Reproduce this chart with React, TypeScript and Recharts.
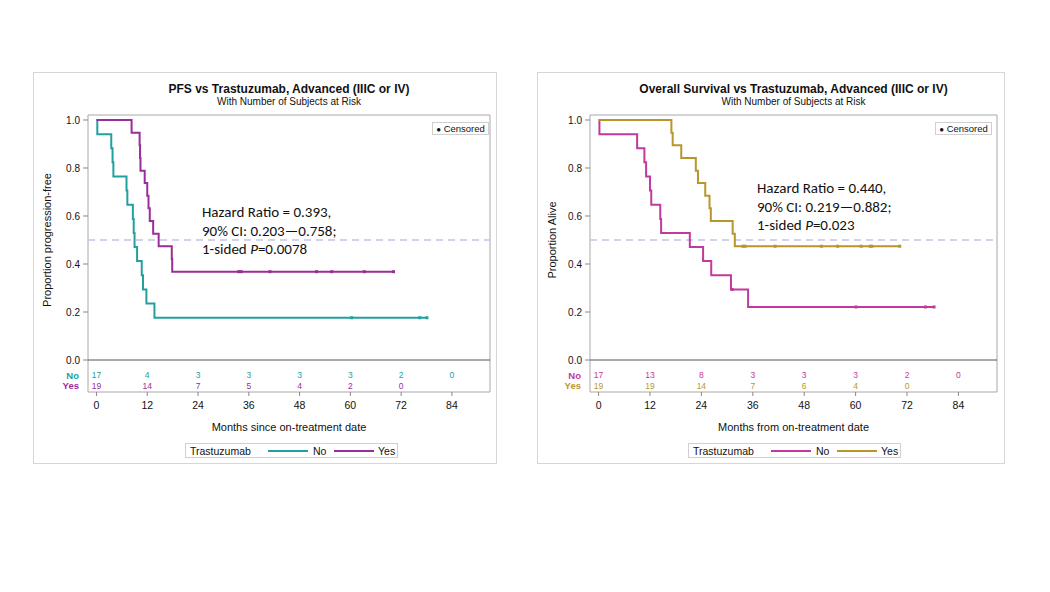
import React from 'react';
import {
  ComposedChart,
  Line,
  Scatter,
  XAxis,
  YAxis,
  ReferenceLine,
  ReferenceArea
} from 'recharts';

// shared axes
const MONTH_TICKS = [0, 12, 24, 36, 48, 60, 72, 84];
const PROP_TICKS = [0, 0.2, 0.4, 0.6, 0.8, 1.0];

// Kaplan-Meier steps: [month, proportion after the event]
const pfsNoSteps = [
  [0, 1], [0.2, 0.941], [3.5, 0.882], [3.8, 0.824], [4.0, 0.765], [7.1, 0.706],
  [7.3, 0.647], [8.6, 0.588], [8.8, 0.529], [9.0, 0.471], [9.6, 0.412],
  [10.7, 0.353], [11.0, 0.294], [11.8, 0.235], [13.7, 0.176]
];
const pfsNoCensored = [60.3, 76.4, 78.1];

const pfsYesSteps = [
  [0, 1], [8.3, 0.947], [10.2, 0.895], [10.3, 0.842], [10.4, 0.789], [11.4, 0.737],
  [12.0, 0.684], [12.3, 0.632], [12.6, 0.579], [13.4, 0.526], [14.7, 0.474],
  [17.8, 0.421], [17.9, 0.368]
];
const pfsYesCensored = [33.6, 34.2, 41.0, 52.0, 55.6, 63.3, 70.2];

const osNoSteps = [
  [0, 1], [0.2, 0.941], [9.0, 0.882], [10.7, 0.824], [11.1, 0.765], [12.0, 0.706],
  [12.3, 0.647], [14.4, 0.588], [14.6, 0.529], [21.3, 0.471], [24.4, 0.412],
  [26.3, 0.353], [30.9, 0.294], [34.9, 0.221]
];
const osNoCensored = [31.2, 60.1, 76.3, 78.3];

const osYesSteps = [
  [0, 1], [17.0, 0.947], [17.3, 0.895], [19.3, 0.842], [22.7, 0.789], [23.2, 0.737],
  [24.9, 0.684], [25.9, 0.632], [26.2, 0.579], [31.3, 0.526], [31.8, 0.474]
];
const osYesCensored = [33.7, 34.2, 41.2, 52.0, 55.8, 61.3, 63.4, 63.8, 70.3];

// number at risk at each month tick
const pfsNoAtRisk = [17, 4, 3, 3, 3, 3, 2, 0];
const pfsYesAtRisk = [19, 14, 7, 5, 4, 2, 0];
const osNoAtRisk = [17, 13, 8, 3, 3, 3, 2, 0];
const osYesAtRisk = [19, 19, 14, 7, 6, 4, 0];

const TEAL = '#22A0A0';
const PURPLE = '#9B2D9B';
const MAGENTA = '#C2399E';
const GOLD = '#B8962C';

const FONT = '"Liberation Sans", Arial, Helvetica, sans-serif';
const Y_MIN = -0.1333;
const Y_MAX = 1.0208;
const X_MIN = -2;
const X_MAX = 93;
const NO_ROW = -0.0625;
const YES_ROW = -0.108;

type Group = {
  name: string;
  color: string;
  steps: number[][];
  censored: number[];
  atRisk: number[];
};

function valueAt(steps: number[][], t: number) {
  let v = steps[0][1];
  for (const [x, y] of steps) if (x <= t) v = y;
  return v;
}

function curve(g: Group) {
  const end = Math.max(...g.censored);
  const pts = g.steps.map(([x, y]) => ({ x, y }));
  pts.push({ x: end, y: valueAt(g.steps, end) });
  return pts;
}

function Panel({ cfg }: { cfg: any }) {
  const { left, width, plotLeft, plotRight, groups } = cfg;
  const g0: Group = groups[0];
  const g1: Group = groups[1];

  const riskRows = [
    ...g0.atRisk.map((n, i) => ({ x: MONTH_TICKS[i], y: NO_ROW, label: String(n), color: g0.color })),
    ...g1.atRisk.map((n, i) => ({ x: MONTH_TICKS[i], y: YES_ROW, label: String(n), color: g1.color }))
  ];
  const rowNames = [
    { x: X_MIN, y: NO_ROW, label: g0.name, color: g0.color },
    { x: X_MIN, y: YES_ROW, label: g1.name, color: g1.color }
  ];

  return (
    <div style={{ position: 'absolute', left, top: 72, width, height: 392, fontFamily: FONT }}>
      <div
        style={{
          position: 'absolute', left: 0, top: 0, width, height: 392,
          border: '1px solid #d6d6d6', boxSizing: 'border-box'
        }}
      />
      <div
        style={{
          position: 'absolute', left: plotLeft, width: plotRight - plotLeft, top: 10,
          textAlign: 'center', fontSize: 12, fontWeight: 'bold', color: '#111', lineHeight: '15px'
        }}
      >
        {cfg.title}
      </div>
      <div
        style={{
          position: 'absolute', left: plotLeft, width: plotRight - plotLeft, top: 24,
          textAlign: 'center', fontSize: 10, color: '#111', lineHeight: '12px'
        }}
      >
        With Number of Subjects at Risk
      </div>
      <div
        style={{
          position: 'absolute', left: cfg.yLabelX - 100, top: 161, width: 200, height: 14,
          lineHeight: '14px', textAlign: 'center', fontSize: 11, color: '#111',
          transform: 'rotate(-90deg)'
        }}
      >
        {cfg.yLabel}
      </div>

      <ComposedChart
        width={width}
        height={392}
        margin={{ top: 43, right: width - plotRight, bottom: 32, left: 10 }}
        style={{ position: 'absolute', left: 0, top: 0 }}
      >
        <XAxis
          type="number"
          dataKey="x"
          domain={[X_MIN, X_MAX]}
          ticks={MONTH_TICKS}
          height={40}
          tickSize={4}
          tickMargin={6}
          axisLine={false}
          tickLine={{ stroke: '#888' }}
          tick={{ fontSize: 10.5, fill: '#111', fontFamily: FONT }}
          label={{ value: cfg.xLabel, position: 'insideBottom', offset: 1, fontSize: 11, fill: '#111', fontFamily: FONT }}
        />
        <YAxis
          type="number"
          dataKey="y"
          domain={[Y_MIN, Y_MAX]}
          ticks={PROP_TICKS}
          width={plotLeft - 10}
          tickSize={5}
          tickMargin={3}
          axisLine={false}
          tickLine={{ stroke: '#888' }}
          tickFormatter={(v: number) => v.toFixed(1)}
          tick={{ fontSize: 10, fill: '#111', fontFamily: FONT }}
        />
        <ReferenceArea
          x1={X_MIN}
          x2={X_MAX}
          y1={Y_MIN}
          y2={Y_MAX}
          fill="none"
          stroke="#a8a8a8"
          ifOverflow="visible"
        />
        <ReferenceLine y={0} stroke="#555" strokeWidth={1} />
        <ReferenceLine y={0.5} stroke="#c4c4e6" strokeWidth={1.5} strokeDasharray="7 5" />
        {groups.map((g: Group) => (
          <Line
            key={g.name}
            data={curve(g)}
            dataKey="y"
            type="stepAfter"
            stroke={g.color}
            strokeWidth={2}
            dot={false}
            isAnimationActive={false}
          />
        ))}
        {groups.map((g: Group) => (
          <Scatter
            key={g.name + '-c'}
            data={g.censored.map((t) => ({ x: t, y: valueAt(g.steps, t) }))}
            fill={g.color}
            isAnimationActive={false}
            shape={(p: any) => <rect x={p.cx - 1.5} y={p.cy - 1.5} width={3} height={3} fill={g.color} />}
          />
        ))}
        <Scatter
          data={riskRows}
          isAnimationActive={false}
          shape={(p: any) => (
            <text x={p.cx} y={p.cy} dy={3} textAnchor="middle" fontSize={8.5} fill={p.payload.color} fontFamily={FONT}>
              {p.payload.label}
            </text>
          )}
        />
        <Scatter
          data={rowNames}
          isAnimationActive={false}
          shape={(p: any) => (
            <text
              x={p.cx - 9}
              y={p.cy}
              dy={3.5}
              textAnchor="end"
              fontSize={9.5}
              fontWeight="bold"
              fill={p.payload.color}
              fontFamily={FONT}
            >
              {p.payload.label}
            </text>
          )}
        />
      </ComposedChart>

      <div
        style={{
          position: 'absolute', left: cfg.censorX, top: 50, width: 57, height: 13,
          border: '1px solid #d0d0d0', boxSizing: 'border-box', background: '#fff',
          fontSize: 9.5, lineHeight: '11px', color: '#111', textAlign: 'center'
        }}
      >
        <span style={{ fontSize: 8 }}>●</span> Censored
      </div>

      <div
        style={{
          position: 'absolute', left: cfg.hrX, top: cfg.hrY, fontFamily: 'Carlito, Calibri, Lato, sans-serif',
          fontSize: 15, lineHeight: '18.5px', color: '#111', whiteSpace: 'nowrap'
        }}
      >
        <div>{cfg.hr[0]}</div>
        <div>{cfg.hr[1]}</div>
        <div>
          1-sided <i>P</i>={cfg.hr[2]}
        </div>
      </div>

      <div
        style={{
          position: 'absolute', left: cfg.legendX, top: 371, width: 213, height: 15,
          border: '1px solid #d0d0d0', boxSizing: 'border-box', display: 'flex',
          alignItems: 'center', fontSize: 10.5, color: '#111', paddingLeft: 4
        }}
      >
        <span style={{ width: 78 }}>Trastuzumab</span>
        <span style={{ width: 40, height: 2, background: g0.color, marginRight: 5 }} />
        <span style={{ width: 21 }}>{g0.name}</span>
        <span style={{ width: 40, height: 2, background: g1.color, marginRight: 4 }} />
        <span>{g1.name}</span>
      </div>
    </div>
  );
}

const pfsPanel = {
  left: 33,
  width: 464,
  plotLeft: 55,
  plotRight: 457,
  yLabelX: 14,
  censorX: 399,
  legendX: 152,
  hrX: 169,
  hrY: 131,
  title: 'PFS vs Trastuzumab, Advanced (IIIC or IV)',
  yLabel: 'Proportion progression-free',
  xLabel: 'Months since on-treatment date',
  hr: ['Hazard Ratio = 0.393,', '90% CI: 0.203\u20140.758;', '0.0078'],
  groups: [
    { name: 'No', color: TEAL, steps: pfsNoSteps, censored: pfsNoCensored, atRisk: pfsNoAtRisk },
    { name: 'Yes', color: PURPLE, steps: pfsYesSteps, censored: pfsYesCensored, atRisk: pfsYesAtRisk }
  ]
};

const osPanel = {
  left: 537,
  width: 468,
  plotLeft: 53,
  plotRight: 460,
  yLabelX: 15,
  censorX: 398,
  legendX: 151,
  hrX: 220,
  hrY: 107,
  title: 'Overall Survival vs Trastuzumab, Advanced (IIIC or IV)',
  yLabel: 'Proportion Alive',
  xLabel: 'Months from on-treatment date',
  hr: ['Hazard Ratio = 0.440,', '90% CI: 0.219\u20140.882;', '0.023'],
  groups: [
    { name: 'No', color: MAGENTA, steps: osNoSteps, censored: osNoCensored, atRisk: osNoAtRisk },
    { name: 'Yes', color: GOLD, steps: osYesSteps, censored: osYesCensored, atRisk: osYesAtRisk }
  ]
};

export default function App() {
  return (
    <div style={{ position: 'absolute', left: 0, top: 0, width: 1050, height: 592, background: '#fff' }}>
      <Panel cfg={pfsPanel} />
      <Panel cfg={osPanel} />
    </div>
  );
}
